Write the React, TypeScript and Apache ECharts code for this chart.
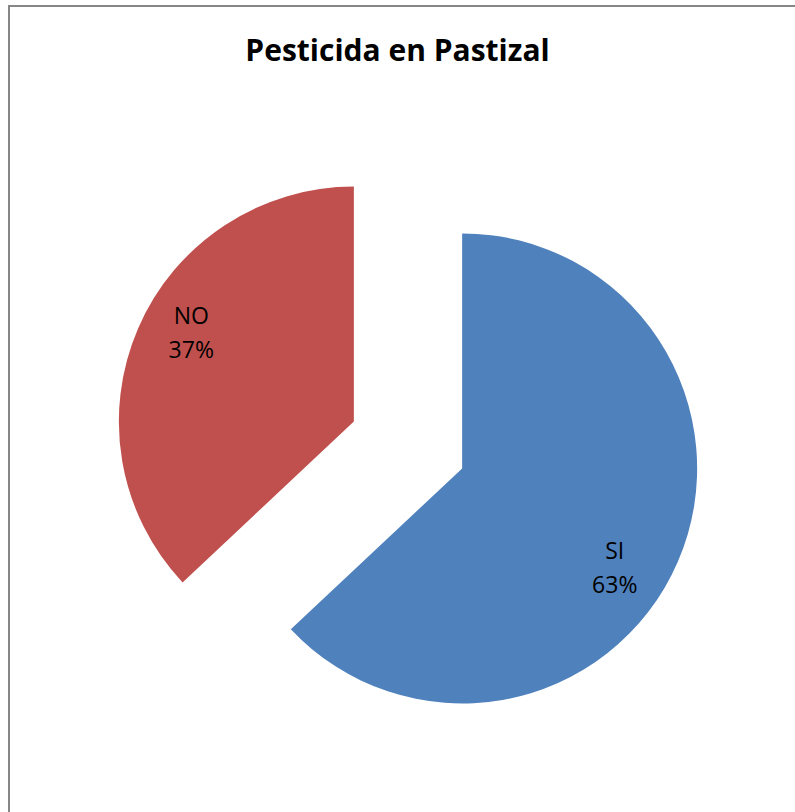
import React, { useEffect, useRef } from "react";
import * as echarts from "echarts";

const titleText = "Pesticida en Pastizal";
const categories = ["SI", "NO"];
const values = [63, 37];
const colors = ["#4F81BD", "#C0504D"];

export default function App() {
  const ref = useRef<HTMLDivElement>(null);
  useEffect(() => {
    if (!ref.current) return;
    const chart = echarts.init(ref.current, undefined, { renderer: "svg" });
    const labelShift = [
      { dx: 42, dy: 51 },
      { dx: -52, dy: -42 },
    ];
    chart.setOption({
      animation: false,
      backgroundColor: "#ffffff",
      title: {
        text: titleText,
        left: "center",
        top: 29,
        textStyle: {
          fontFamily: "Open Sans",
          fontWeight: "bold",
          fontSize: 30,
          color: "#000000",
        },
      },
      graphic: [
        {
          type: "rect",
          shape: { x: 9, y: 6, width: 900, height: 900 },
          style: { fill: "none", stroke: "#878787", lineWidth: 2 },
          silent: true,
        },
      ],
      series: [
        {
          type: "pie",
          center: [408, 445],
          radius: 235,
          startAngle: 90,
          clockwise: true,
          selectedMode: "multiple",
          selectedOffset: 59,
          emphasis: { disabled: true },
          label: {
            show: true,
            position: "inside",
            formatter: "{b}\n{d}%",
            fontFamily: "Open Sans",
            fontSize: 23,
            lineHeight: 34,
            color: "#000000",
          },
          labelLayout: (p: any) => labelShift[p.dataIndex],
          data: categories.map((c, i) => ({
            name: c,
            value: values[i],
            selected: true,
            itemStyle: { color: colors[i] },
            select: { itemStyle: { color: colors[i] } },
          })),
        },
      ],
    });
    return () => chart.dispose();
  }, []);
  return (
    <div
      ref={ref}
      style={{ position: "fixed", left: 0, top: 0, width: 795, height: 812 }}
    />
  );
}
